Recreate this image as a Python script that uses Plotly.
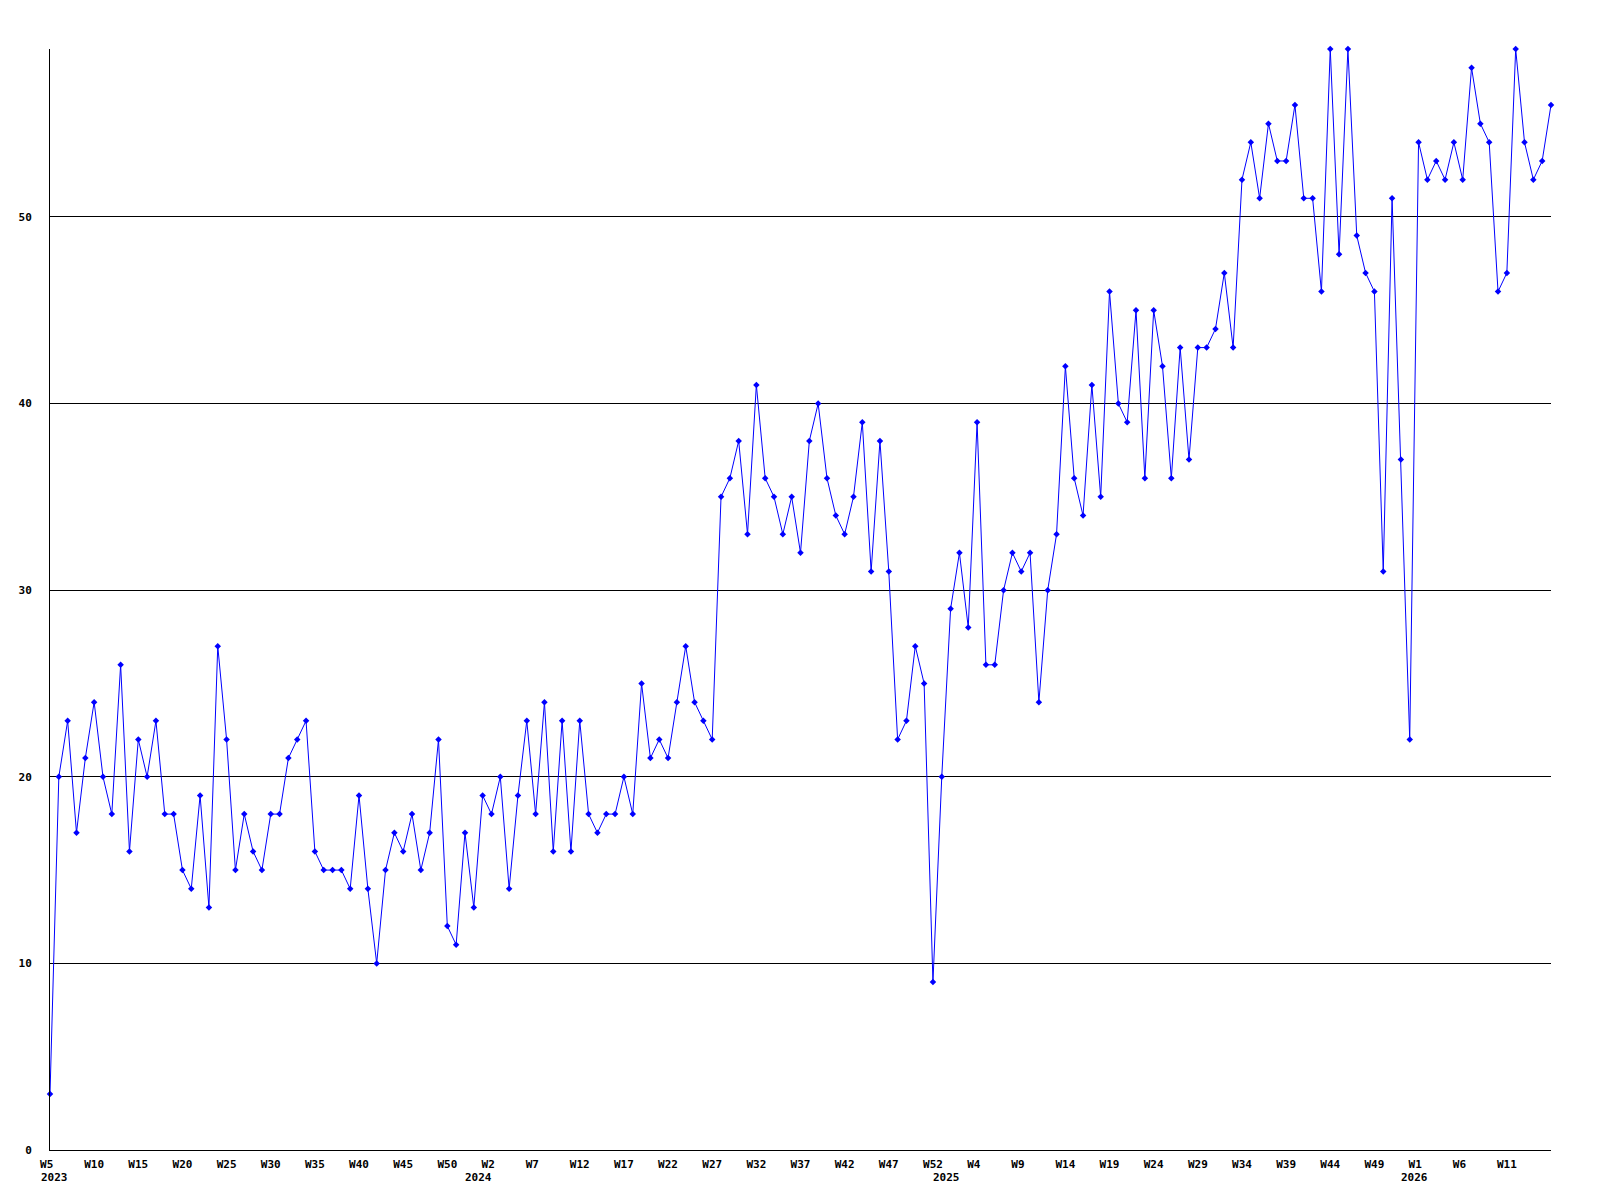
import plotly.graph_objects as go

# ---- data ----
# week labels: 2023 W5..W53, 2024 W1..W53, 2025 W1..W53, 2026 W1..W16
week_years = [2023] * 49 + [2024] * 53 + [2025] * 53 + [2026] * 16
week_nums = list(range(5, 54)) + list(range(1, 54)) + list(range(1, 54)) + list(range(1, 17))

values = [
    3, 20, 23, 17, 21, 24, 20, 18, 26, 16, 22, 20, 23, 18, 18, 15, 14, 19, 13, 27,
    22, 15, 18, 16, 15, 18, 18, 21, 22, 23, 16, 15, 15, 15, 14, 19, 14, 10, 15, 17,
    16, 18, 15,
    17, 22, 12, 11, 17, 13, 19, 18, 20, 14, 19, 23, 18, 24, 16, 23, 16, 23, 18, 17,
    18, 18, 20, 18, 25, 21, 22, 21, 24, 27, 24, 23, 22,
    35, 36, 38, 33, 41, 36, 35, 33, 35, 32, 38, 40, 36, 34, 33, 35, 39, 31, 38, 31,
    22, 23, 27, 25, 9, 20, 29, 32, 28, 39, 26, 26,
    30, 32, 31, 32, 24, 30, 33, 42, 36, 34, 41, 35, 46, 40, 39, 45, 36, 45, 42, 36,
    43, 37, 43, 43, 44, 47, 43,
    52, 54, 51, 55, 53, 53, 56, 51, 51, 46, 59, 48, 59, 49, 47, 46, 31, 51, 37, 22,
    54, 52, 53, 52, 54, 52, 58, 55, 54, 46, 47, 59, 54, 52, 53, 56,
]

y_ticks = [0, 10, 20, 30, 40, 50]
label_step = 5
label_count = 34  # W5 2023 ... W11 2026

# ---- derived ----
idx = list(range(len(values)))
week_labels = ["W%d" % n for n in week_nums]
tick_vals = [i * label_step for i in range(label_count)]
tick_text = []
for i in tick_vals:
    t = week_labels[i]
    # labels are left aligned in the original: pad short ones
    tick_text.append(t + "\u00a0" * (3 - len(t)))

FONT = "DejaVu Sans Mono"

fig = go.Figure()
fig.add_trace(go.Scatter(
    x=idx, y=values, mode="lines+markers",
    line=dict(color="#0000ff", width=1),
    marker=dict(symbol="diamond", size=5, color="#0000ff"),
    cliponaxis=False,
    text=[f"{y} {w}" for y, w in zip(week_years, week_labels)],
    hoverinfo="text+y",
))

annotations = []
for i, yr in enumerate(week_years):
    if i == 0:
        annotations.append(dict(x=0, y=0, xref="x", yref="paper", text=str(yr),
                                showarrow=False, xanchor="left", yanchor="middle",
                                xshift=-11, yshift=-27,
                                font=dict(family=FONT, size=11, color="black", weight="bold")))
    elif yr != week_years[i - 1]:
        annotations.append(dict(x=i - 0.5, y=0, xref="x", yref="paper", text=str(yr),
                                showarrow=False, xanchor="center", yanchor="middle",
                                yshift=-27,
                                font=dict(family=FONT, size=11, color="black", weight="bold")))

fig.update_layout(
    width=1584, height=1184,
    margin=dict(l=42, r=41.3, t=41, b=42),
    paper_bgcolor="white", plot_bgcolor="white",
    showlegend=False,
    annotations=annotations,
    xaxis=dict(
        range=[0, len(values) - 1],
        tickmode="array", tickvals=tick_vals, ticktext=tick_text,
        showgrid=False, zeroline=False,
        showline=True, linecolor="black", linewidth=1,
        ticks="", ticklabelstandoff=4,
        tickfont=dict(family=FONT, size=11, color="black", weight="bold"),
        fixedrange=True,
    ),
    yaxis=dict(
        range=[0, 59],
        tickmode="array", tickvals=y_ticks, ticktext=[str(v) for v in y_ticks],
        showgrid=True, gridcolor="black", gridwidth=1,
        zeroline=False,
        showline=True, linecolor="black", linewidth=1,
        ticks="", ticklabelstandoff=15,
        tickfont=dict(family=FONT, size=11, color="black", weight="bold"),
        fixedrange=True,
    ),
)

fig.write_html("out.html")
